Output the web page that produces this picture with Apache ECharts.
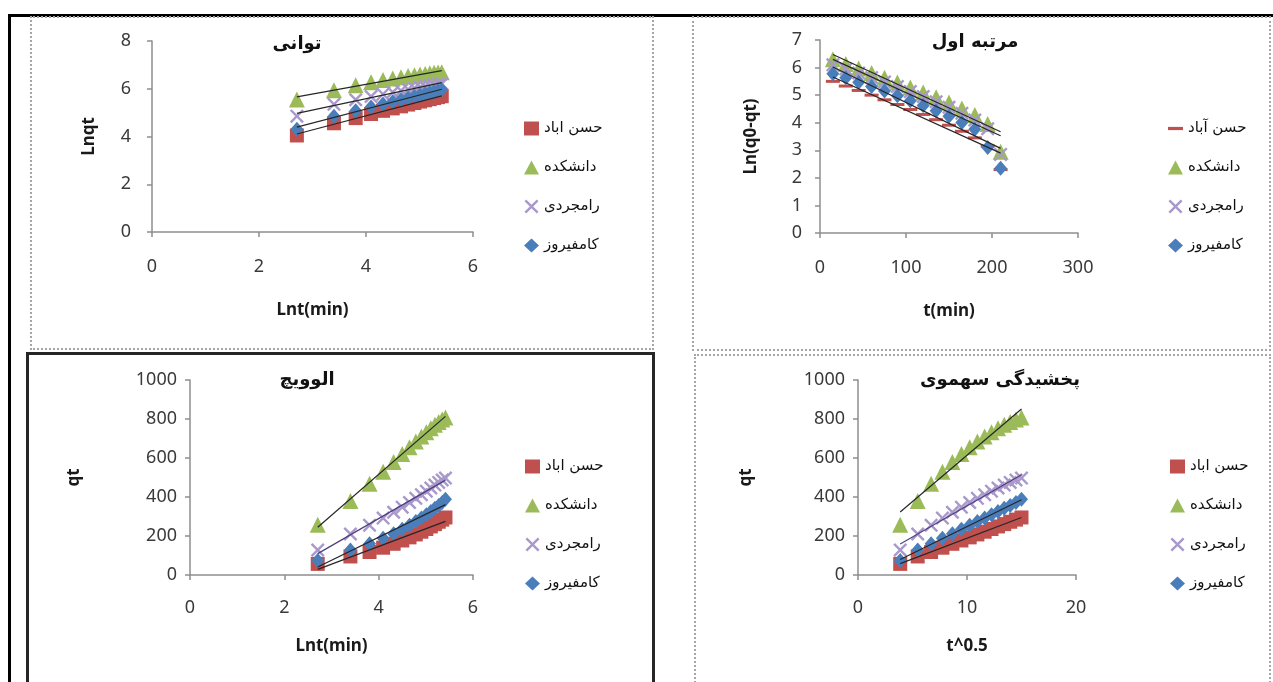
<!DOCTYPE html>
<html><head><meta charset="utf-8">
<script src="https://cdn.jsdelivr.net/npm/echarts@6/dist/echarts.min.js"></script>
<style>
html,body{margin:0;padding:0;background:#fff;width:1273px;height:682px;overflow:hidden;position:relative}
.c{position:absolute}
.b{position:absolute;pointer-events:none;box-sizing:border-box}
</style></head><body>
<div class="c" id="tl" style="left:31px;top:17px;width:622px;height:332px"></div>
<div class="c" id="tr" style="left:693px;top:17px;width:577px;height:333px"></div>
<div class="c" id="bl" style="left:26px;top:353px;width:628px;height:329px"></div>
<div class="c" id="br" style="left:695px;top:355px;width:575px;height:327px"></div>
<div class="b" style="left:8px;top:14px;width:1265px;height:3px;background:#000"></div>
<div class="b" style="left:8px;top:14px;width:3px;height:668px;background:#000"></div>
<div class="b" style="left:30px;top:16px;width:624px;height:334px;border:2px dotted #a6a6a6"></div>
<div class="b" style="left:692px;top:16px;width:579px;height:335px;border:2px dotted #a6a6a6"></div>
<div class="b" style="left:26px;top:352px;width:629px;height:340px;border:3px solid #262626"></div>
<div class="b" style="left:694px;top:354px;width:577px;height:340px;border:2px dotted #a6a6a6"></div>
<script>
// ---- data ----
const seriesNames = ['حسن اباد', 'دانشکده', 'رامجردی', 'کامفیروز'];
const seriesNamesFO = ['حسن آباد', 'دانشکده', 'رامجردی', 'کامفیروز'];
const tMinutes = [15, 30, 45, 60, 75, 90, 105, 120, 135, 150, 165, 180, 195, 210, 225];
const qtHasanabad = [57, 95, 118, 140, 160, 177, 193, 208, 222, 236, 249, 261, 273, 284, 295];
const qtDaneshkadeh = [258, 380, 468, 530, 580, 620, 655, 685, 710, 732, 752, 770, 785, 797, 808];
const qtRamjerdi = [128, 210, 255, 292, 322, 348, 372, 393, 412, 430, 446, 461, 475, 487, 497];
const qtKamfiruz = [74, 128, 160, 188, 212, 234, 255, 274, 292, 309, 326, 342, 357, 372, 388];
// first-order: Ln(q0-qt) vs t (t = 15..210)
const tFirstOrder = [15, 30, 45, 60, 75, 90, 105, 120, 135, 150, 165, 180, 195, 210];
const foHasanabad = [5.50, 5.33, 5.17, 5.00, 4.83, 4.66, 4.48, 4.30, 4.11, 3.91, 3.69, 3.45, 3.15, 2.30];
const foDaneshkadeh = [6.30, 6.13, 5.97, 5.80, 5.63, 5.46, 5.28, 5.10, 4.92, 4.73, 4.52, 4.28, 3.95, 2.95];
const foRamjerdi = [6.10, 5.95, 5.80, 5.64, 5.48, 5.31, 5.13, 4.95, 4.76, 4.56, 4.34, 4.10, 3.78, 2.85];
const foKamfiruz = [5.78, 5.63, 5.47, 5.31, 5.15, 4.98, 4.80, 4.62, 4.43, 4.23, 4.01, 3.76, 3.10, 2.35];
// axis ticks [min, max, interval]
const ticksTL = {x: [0, 6, 2], y: [0, 8, 2]};
const ticksTR = {x: [0, 300, 100], y: [0, 7, 1]};
const ticksBL = {x: [0, 6, 2], y: [0, 1000, 200]};
const ticksBR = {x: [0, 20, 10], y: [0, 1000, 200]};

// ---- styles ----
const COLORS = ['#C0504D', '#9BBB59', '#A898CB', '#4A7EBB'];
const XPATH = 'path://M0,1.2L1.2,0L5,3.8L8.8,0L10,1.2L6.2,5L10,8.8L8.8,10L5,6.2L1.2,10L0,8.8L3.8,5Z';
const DASHPATH = 'path://M0,0L14,0L14,3L0,3Z';
const NUMFONT = 'Noto Sans';
const FAFONT = 'DejaVu Sans';

function fit(xs, ys) {
  const n = xs.length;
  let sx = 0, sy = 0, sxx = 0, sxy = 0;
  for (let i = 0; i < n; i++) { sx += xs[i]; sy += ys[i]; sxx += xs[i] * xs[i]; sxy += xs[i] * ys[i]; }
  const b = (n * sxy - sx * sy) / (n * sxx - sx * sx);
  const a = (sy - b * sx) / n;
  const x0 = Math.min(...xs), x1 = Math.max(...xs);
  return [[x0, a + b * x0], [x1, a + b * x1]];
}

function makePanel(id, cfg) {
  const chart = echarts.init(document.getElementById(id), null, {renderer: 'canvas'});
  const symbols = cfg.symbols;
  const scatter = cfg.ys.map((ys, i) => ({
    name: cfg.names[i], type: 'scatter', z: 2 + i,
    data: cfg.xs.map((x, k) => [x, ys[k]]),
    symbol: symbols[i][0], symbolSize: symbols[i][1],
    itemStyle: {color: COLORS[i], opacity: 1},
    emphasis: {disabled: true}, animation: false
  }));
  const trends = cfg.ys.map((ys, i) => ({
    name: 'trend' + i, type: 'line', z: 10, symbol: 'none',
    data: fit(cfg.xs, ys),
    lineStyle: {color: cfg.trendColors[i], width: 1.2},
    silent: true, animation: false
  }));
  const axisCommon = {
    type: 'value', splitLine: {show: false},
    axisLine: {show: true, lineStyle: {color: '#8e8e8e', width: 1.5}},
    axisTick: {show: true, inside: false, length: 5, lineStyle: {color: '#8e8e8e', width: 1.5}},
    nameLocation: 'middle',
    nameTextStyle: {fontFamily: NUMFONT, fontWeight: 'bold', fontSize: 17, color: '#1a1a1a'}
  };
  const labelFmt = v => String(v);
  chart.setOption({
    animation: false,
    grid: cfg.grid,
    xAxis: Object.assign({}, axisCommon, {
      min: cfg.ticks.x[0], max: cfg.ticks.x[1], interval: cfg.ticks.x[2],
      name: cfg.xName, nameGap: cfg.xNameGap,
      axisLabel: {color: '#3a3a3a', fontSize: 18, fontFamily: NUMFONT, margin: cfg.xLabelMargin, formatter: labelFmt}
    }),
    yAxis: Object.assign({}, axisCommon, {
      min: cfg.ticks.y[0], max: cfg.ticks.y[1], interval: cfg.ticks.y[2],
      name: cfg.yName, nameGap: cfg.yNameGap,
      axisLabel: {color: '#3a3a3a', fontSize: 18, fontFamily: NUMFONT, margin: cfg.yLabelMargin, formatter: labelFmt}
    }),
    legend: {
      orient: 'vertical', left: cfg.legend[0], top: cfg.legend[1],
      itemWidth: 15, itemHeight: 14, itemGap: 24,
      data: cfg.names.map((n, i) => ({name: n, icon: cfg.legendIcons[i]})),
      selectedMode: false,
      textStyle: {fontFamily: FAFONT, fontSize: 15, color: '#111'}
    },
    graphic: [{
      type: 'text', x: cfg.title[1], y: cfg.title[2], silent: true,
      style: {text: cfg.title[0], font: 'bold 18px "DejaVu Sans"', fill: '#111', align: 'center', verticalAlign: 'middle'}
    }],
    series: scatter.concat(trends)
  });
}

const stdSymbols = [['rect', 14], ['triangle', 16], [XPATH, 14], ['diamond', [13, 15]]];
const foSymbols = [['rect', [14, 3]], ['triangle', 16], [XPATH, 14], ['diamond', [13, 15]]];
const stdIcons = ['rect', 'triangle', XPATH, 'diamond'];
const foIcons = [DASHPATH, 'triangle', XPATH, 'diamond'];
const qtAll = [qtHasanabad, qtDaneshkadeh, qtRamjerdi, qtKamfiruz];
const lnT = tMinutes.map(t => Math.log(t));
const sqrtT = tMinutes.map(t => Math.sqrt(t));

makePanel('tl', {
  names: seriesNames, symbols: stdSymbols, legendIcons: stdIcons,
  xs: lnT, ys: qtAll.map(a => a.map(v => Math.log(v))),
  trendColors: ['#262626', '#262626', '#262626', '#262626'],
  grid: {left: 121, top: 24, width: 321, height: 191},
  ticks: ticksTL, xName: 'Lnt(min)', yName: 'Lnqt', xNameGap: 70, yNameGap: 54,
  xLabelMargin: 26, yLabelMargin: 21,
  legend: [488, 99], title: ['توانی', 266, 27]
});
makePanel('tr', {
  names: seriesNamesFO, symbols: foSymbols, legendIcons: foIcons,
  xs: tFirstOrder, ys: [foHasanabad, foDaneshkadeh, foRamjerdi, foKamfiruz],
  trendColors: ['#262626', '#262626', '#262626', '#262626'],
  grid: {left: 127, top: 23, width: 258, height: 193},
  ticks: ticksTR, xName: 't(min)', yName: 'Ln(q0-qt)', xNameGap: 70, yNameGap: 60,
  xLabelMargin: 26, yLabelMargin: 18,
  legend: [470, 99], title: ['مرتبه اول', 282, 25]
});
makePanel('bl', {
  names: seriesNames, symbols: stdSymbols, legendIcons: stdIcons,
  xs: lnT, ys: qtAll,
  trendColors: ['#262626', '#262626', '#4f3f7f', '#262626'],
  grid: {left: 164, top: 27, width: 283, height: 195},
  ticks: ticksBL, xName: 'Lnt(min)', yName: 'qt', xNameGap: 63, yNameGap: 107,
  xLabelMargin: 24, yLabelMargin: 13,
  legend: [494, 101], title: ['الوویچ', 281, 27]
});
makePanel('br', {
  names: seriesNames, symbols: stdSymbols, legendIcons: stdIcons,
  xs: sqrtT, ys: qtAll,
  trendColors: ['#262626', '#262626', '#4f3f7f', '#262626'],
  grid: {left: 163, top: 25, width: 218, height: 195},
  ticks: ticksBR, xName: 't^0.5', yName: 'qt', xNameGap: 63, yNameGap: 103,
  xLabelMargin: 24, yLabelMargin: 13,
  legend: [470, 99], title: ['پخشیدگی سهموی', 305, 25]
});
</script>
</body></html>
